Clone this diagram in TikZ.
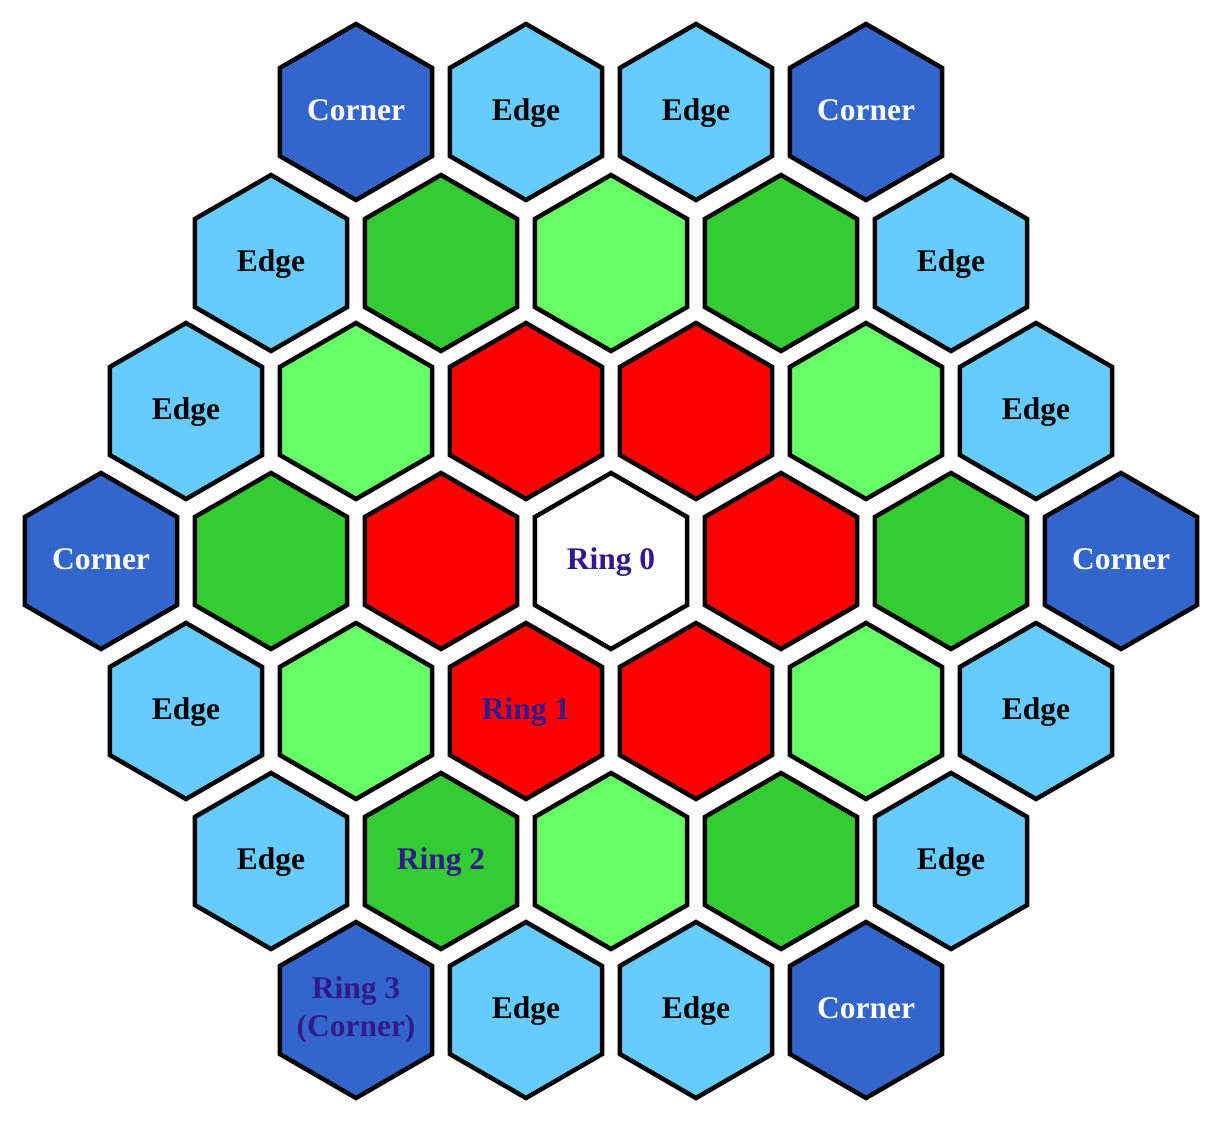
\documentclass[tikz,border=0pt]{standalone}
\usepackage{fontspec}
\setmainfont{Liberation Serif}
\usetikzlibrary{shapes.geometric}

\definecolor{cornerblue}{HTML}{3366CC}
\definecolor{edgeblue}{HTML}{66CCFF}
\definecolor{darkgreen}{HTML}{33CC33}
\definecolor{lightgreen}{HTML}{66FF66}
\definecolor{ringred}{HTML}{FF0000}
\definecolor{ringtext}{HTML}{331A8C}

\begin{document}
\begin{tikzpicture}[
  x=1pt, y=-1pt,
  hexcell/.style={regular polygon, regular polygon sides=6, shape border rotate=30,
    draw=black, line width=4.5pt, minimum size=176pt, inner sep=0pt, align=center,
    text height=21pt, text depth=4pt,
    font=\fontsize{31.5}{38}\selectfont\bfseries},
  cornerhex/.style={hexcell, fill=cornerblue, text=white},
  edgehex/.style={hexcell, fill=edgeblue, text=black},
  ringtwodark/.style={hexcell, fill=darkgreen, text=ringtext},
  ringtwolight/.style={hexcell, fill=lightgreen, text=ringtext},
  ringone/.style={hexcell, fill=ringred, text=ringtext},
  centrehex/.style={hexcell, fill=white, text=ringtext}
]
\useasboundingbox (0,0) rectangle (1223,1127);

% row 0
\node[cornerhex] (h0-0) at (356,112) {Corner};
\node[edgehex]   (h0-1) at (526,112) {Edge};
\node[edgehex]   (h0-2) at (696,112) {Edge};
\node[cornerhex] (h0-3) at (866,112) {Corner};

% row 1
\node[edgehex]      (h1-0) at (271,263) {Edge};
\node[ringtwodark]  (h1-1) at (441,263) {};
\node[ringtwolight] (h1-2) at (611,263) {};
\node[ringtwodark]  (h1-3) at (781,263) {};
\node[edgehex]      (h1-4) at (951,263) {Edge};

% row 2
\node[edgehex]      (h2-0) at (186,411) {Edge};
\node[ringtwolight] (h2-1) at (356,411) {};
\node[ringone]      (h2-2) at (526,411) {};
\node[ringone]      (h2-3) at (696,411) {};
\node[ringtwolight] (h2-4) at (866,411) {};
\node[edgehex]      (h2-5) at (1036,411) {Edge};

% row 3
\node[cornerhex]   (h3-0) at (101,561) {Corner};
\node[ringtwodark] (h3-1) at (271,561) {};
\node[ringone]     (h3-2) at (441,561) {};
\node[centrehex]   (h3-3) at (611,561) {Ring 0};
\node[ringone]     (h3-4) at (781,561) {};
\node[ringtwodark] (h3-5) at (951,561) {};
\node[cornerhex]   (h3-6) at (1121,561) {Corner};

% row 4
\node[edgehex]      (h4-0) at (186,711) {Edge};
\node[ringtwolight] (h4-1) at (356,711) {};
\node[ringone]      (h4-2) at (526,711) {Ring 1};
\node[ringone]      (h4-3) at (696,711) {};
\node[ringtwolight] (h4-4) at (866,711) {};
\node[edgehex]      (h4-5) at (1036,711) {Edge};

% row 5
\node[edgehex]      (h5-0) at (271,861) {Edge};
\node[ringtwodark]  (h5-1) at (441,861) {Ring 2};
\node[ringtwolight] (h5-2) at (611,861) {};
\node[ringtwodark]  (h5-3) at (781,861) {};
\node[edgehex]      (h5-4) at (951,861) {Edge};

% row 6
\node[cornerhex, text=ringtext, inner sep=-25pt, text height=59pt, text depth=6pt]
  (h6-0) at (356,1010) {Ring 3\\(Corner)};
\node[edgehex]   (h6-1) at (526,1010) {Edge};
\node[edgehex]   (h6-2) at (696,1010) {Edge};
\node[cornerhex] (h6-3) at (866,1010) {Corner};
\end{tikzpicture}
\end{document}
